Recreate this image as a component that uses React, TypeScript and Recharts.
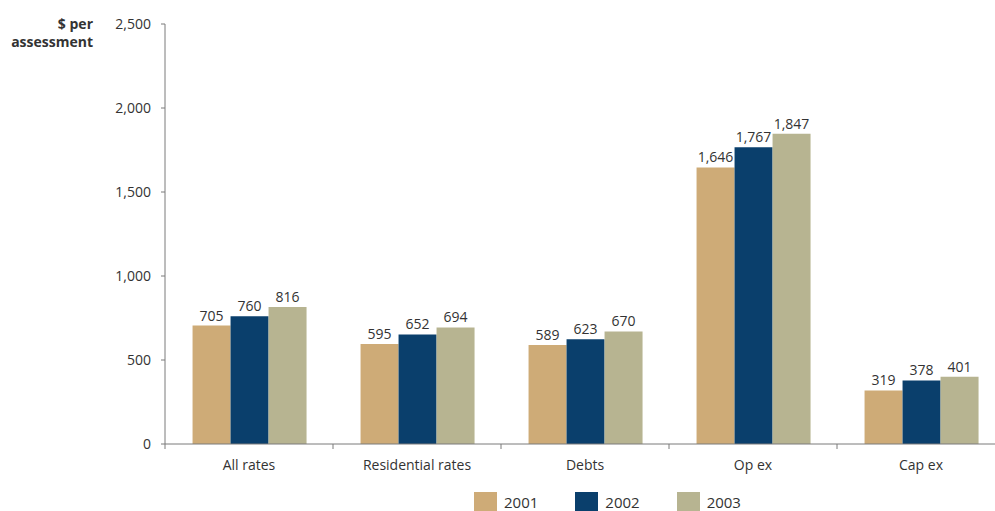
import { BarChart, Bar, XAxis, YAxis, LabelList, Legend } from "recharts";

const categories = ["All rates", "Residential rates", "Debts", "Op ex", "Cap ex"];
const years = ["2001", "2002", "2003"];
const values2001 = [705, 595, 589, 1646, 319];
const values2002 = [760, 652, 623, 1767, 378];
const values2003 = [816, 694, 670, 1847, 401];
const yTicks = [0, 500, 1000, 1500, 2000, 2500];

const colors = ["#CEAB77", "#0A3F6C", "#B7B491"];
const font = "'Open Sans', 'Noto Sans', sans-serif";
const textColor = "#333333";
const axisColor = "#7a7a7a";

const data = categories.map((name, i) => ({
  name,
  "2001": values2001[i],
  "2002": values2002[i],
  "2003": values2003[i],
}));

const fmt = (v: number | string) => Number(v).toLocaleString("en-US");

const CategoryTick = (props: any) => {
  const { x, y, payload } = props;
  const half = payload?.offset ?? 84;
  return (
    <g>
      <line x1={x - half} x2={x - half} y1={y - 16} y2={y - 11} stroke={axisColor} strokeWidth={1} />
      <text x={x} y={y} dy="0.71em" textAnchor="middle" fill={textColor} fontSize={14} fontFamily={font}>
        {payload.value}
      </text>
    </g>
  );
};

const YTitle = (props: any) => {
  const vb = props.viewBox || { x: 0, y: 24, width: 165 };
  const x = vb.x + vb.width - 72;
  return (
    <text x={x} y={vb.y + 5} textAnchor="end" fill={textColor} fontSize={14} fontWeight="bold" fontFamily={font}>
      <tspan x={x} dy="0">$ per</tspan>
      <tspan x={x} dy="18">assessment</tspan>
    </text>
  );
};

const LegendBox = () => (
  <div style={{ display: "flex", paddingLeft: 474, height: 24, fontFamily: font, fontSize: 15, color: textColor }}>
    {years.map((y, i) => (
      <div key={y} style={{ display: "flex", alignItems: "flex-start", marginRight: 37 }}>
        <span style={{ width: 23, height: 19, background: colors[i], display: "inline-block" }} />
        <span style={{ marginLeft: 7, lineHeight: "16px", marginTop: 2 }}>{y}</span>
      </div>
    ))}
  </div>
);

export default function App() {
  return (
    <div style={{ position: "absolute", left: 0, top: 0, width: 995, height: 511, overflow: "hidden", background: "#fff" }}>
      <BarChart
        width={1010}
        height={516}
        data={data}
        margin={{ top: 24, right: 5, bottom: 0, left: 0 }}
        barCategoryGap="16.4%"
        barGap={0}
      >
        <XAxis
          dataKey="name"
          stroke={axisColor}
          tickLine={false}
          tickSize={0}
          tickMargin={16}
          height={48}
          interval={0}
          tick={<CategoryTick />}
        />
        <YAxis
          domain={[0, 2500]}
          ticks={yTicks}
          width={165}
          stroke={axisColor}
          tickSize={4}
          tickMargin={10}
          tickFormatter={fmt}
          tick={{ fill: textColor, fontSize: 14, fontFamily: font }}
          label={{ content: <YTitle /> }}
        />
        <Legend verticalAlign="bottom" content={<LegendBox />} />
        {years.map((y, i) => (
          <Bar key={y} dataKey={y} fill={colors[i]} isAnimationActive={false}>
            <LabelList
              dataKey={y}
              position="top"
              offset={5}
              formatter={fmt}
              fill={textColor}
              fontSize={14}
              fontFamily={font}
            />
          </Bar>
        ))}
      </BarChart>
    </div>
  );
}
